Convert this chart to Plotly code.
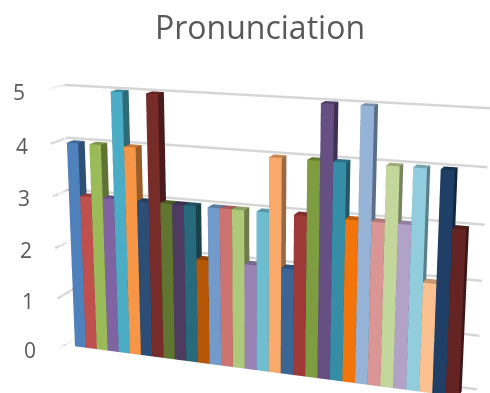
import math
import plotly.graph_objects as go

# One score per bar, in drawing order along the category
scores = [4, 3, 4, 3, 5, 4, 3, 5, 3, 3, 3, 2, 3, 3, 3, 2,
          3, 4, 2, 3, 4, 5, 4, 3, 5, 3, 4, 3, 4, 2, 4, 3]
bar_colors = ["#4F81BD", "#C0504D", "#9BBB59", "#8064A2", "#4BACC6", "#F79646",
              "#2C4D75", "#772C2A", "#5F7530", "#4D3B62", "#276A7C", "#B65708",
              "#729ACA", "#CD7371", "#AFC97A", "#9983B5", "#6FBDD1", "#F9AA6B",
              "#3A6595", "#9E3A38", "#7E9C40", "#664F83", "#358EA6", "#F2750B",
              "#95B3D7", "#D99694", "#C3D69B", "#B3A2C7", "#92CDDD", "#FAC090",
              "#1F3F66", "#632423"]
tick_values = [0, 1, 2, 3, 4, 5]
chart_title = "Pronunciation"

# Scene shape and view
FIG = 1042
PAGE_X, PAGE_Y = 259, 237
YAW, PITCH = math.radians(20), math.radians(15)
DIST = 2.89
X_RANGE = [-1, 33]
Y_RANGE = [0, 2]
BAR_DEPTH = (0.6, 1.4)
GREY = "#595959"


def shade(hex_color, k):
    r, g, b = (int(hex_color[i:i + 2], 16) for i in (1, 3, 5))
    return f"rgb({int(r * k)},{int(g * k)},{int(b * k)})"


# Cuboid faces: bottom, top, front, back, left, right
FACE_I = [0, 0, 4, 4, 0, 0, 3, 3, 0, 0, 1, 1]
FACE_J = [1, 2, 5, 6, 1, 5, 2, 6, 3, 7, 2, 6]
FACE_K = [2, 3, 6, 7, 5, 4, 6, 7, 7, 4, 6, 5]

fig = go.Figure()

# Gridlines run along the side wall and then across the back wall
grid_x, grid_y, grid_z = [], [], []
for v in tick_values:
    grid_x += [X_RANGE[0], X_RANGE[0], X_RANGE[1], None]
    grid_y += [Y_RANGE[0], Y_RANGE[1], Y_RANGE[1], None]
    grid_z += [v, v, v, None]
fig.add_trace(go.Scatter3d(x=grid_x, y=grid_y, z=grid_z, mode="lines",
                           line=dict(color="#D6D6D6", width=5), hoverinfo="skip"))

for n, (score, color) in enumerate(zip(scores, bar_colors)):
    x0, x1, (y0, y1) = n, n + 1, BAR_DEPTH
    top, side = shade(color, 0.8), shade(color, 0.62)
    fig.add_trace(go.Mesh3d(
        x=[x0, x1, x1, x0, x0, x1, x1, x0],
        y=[y0, y0, y1, y1, y0, y0, y1, y1],
        z=[0, 0, 0, 0, score, score, score, score],
        i=FACE_I, j=FACE_J, k=FACE_K,
        facecolor=[side, side, top, top, color, color, side, side, side, side, side, side],
        flatshading=True,
        lighting=dict(ambient=1, diffuse=0, specular=0, fresnel=0),
        hoverinfo="skip", showscale=False,
    ))

hidden = dict(visible=True, showgrid=False, zeroline=False, showline=False, ticks="",
              showticklabels=False, showbackground=False, showspikes=False, title="")
fig.update_layout(
    width=FIG, height=FIG, margin=dict(l=0, r=0, t=0, b=0), showlegend=False,
    paper_bgcolor="white",
    font=dict(family="Open Sans", color=GREY),
    title=dict(text=chart_title, font=dict(size=32, color=GREY), xref="paper", yref="paper",
               x=(260 - PAGE_X + FIG / 2) / FIG, y=1 - (28 - PAGE_Y + FIG / 2) / FIG,
               xanchor="center", yanchor="middle"),
    scene=dict(
        domain=dict(x=[0, 1], y=[0, 1]),
        aspectmode="manual", aspectratio=dict(x=1.018, y=0.082, z=0.64),
        xaxis=dict(hidden, range=X_RANGE),
        yaxis=dict(hidden, range=Y_RANGE),
        zaxis=dict(hidden, range=[0, 5], tickvals=tick_values),
        camera=dict(
            eye=dict(x=DIST * math.sin(YAW) * math.cos(PITCH),
                     y=-DIST * math.cos(YAW) * math.cos(PITCH),
                     z=DIST * math.sin(PITCH)),
            center=dict(x=0, y=0, z=0), up=dict(x=0, y=0, z=1),
            projection=dict(type="perspective")),
        annotations=[dict(x=X_RANGE[0], y=Y_RANGE[0], z=v, text=str(v), showarrow=False,
                          xanchor="right", xshift=-21, yshift=-2, font=dict(size=21, color=GREY))
                     for v in tick_values],
    ),
)

# The scene is larger than the window; slide it so the chart sits in view
place = (f"var d=document.getElementById('{{plot_id}}');d.style.position='absolute';"
         f"d.style.left='{PAGE_X - FIG // 2}px';d.style.top='{PAGE_Y - FIG // 2}px';"
         "document.body.style.overflow='hidden';document.documentElement.style.overflow='hidden';")
fig.write_html("out.html", post_script=place, config=dict(displayModeBar=False))
